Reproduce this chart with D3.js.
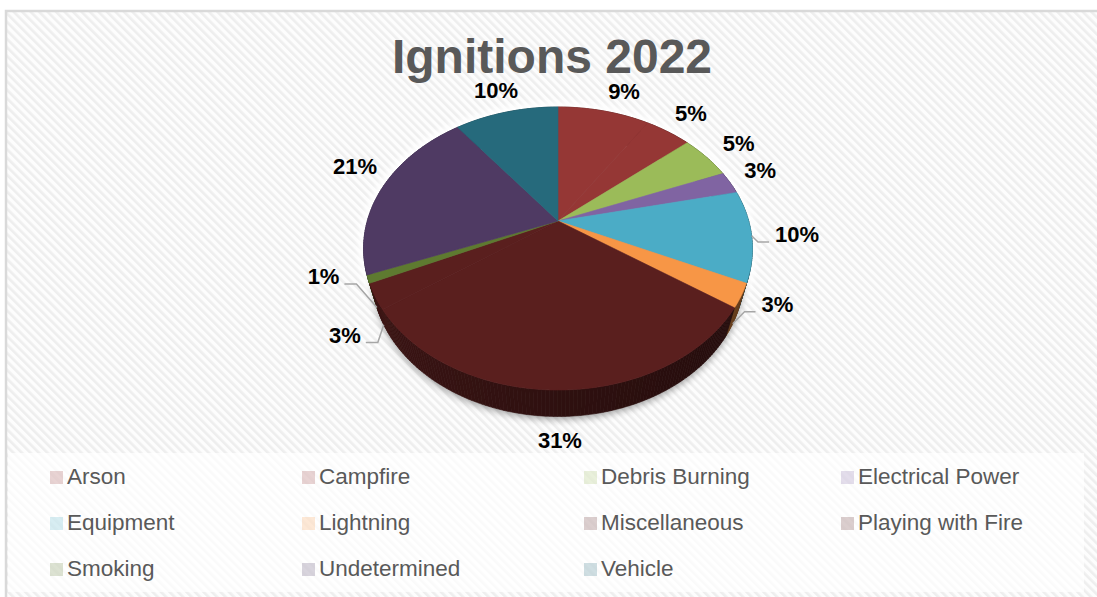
<!DOCTYPE html>
<html><head><meta charset="utf-8">
<script src="https://cdn.jsdelivr.net/npm/d3@7"></script>
<style>
html,body{margin:0;padding:0;background:#fff;}
svg{display:block;font-family:"Liberation Sans",Arial,sans-serif;}
</style></head>
<body>
<svg id="chart" width="1097" height="597"></svg>
<script>
// ---- data ----
const title = "Ignitions 2022";
const categories = ["Arson","Campfire","Debris Burning","Electrical Power","Equipment","Lightning","Miscellaneous","Playing with Fire","Smoking","Undetermined","Vehicle"];
const values = [9.2,4.6,5.1,2.6,10.4,2.7,30.6,2.9,0.9,20.6,10.4];
const colors = ["#953735","#953735","#9bbb59","#8064a2","#4bacc6","#f79646","#5a1f1e","#5a1f1e","#5e7a30","#4f3a63","#266a7c"];

// ---- layout ----
const W = 1097, H = 597;
const cx = 558, cy = 221, R = 190.7;
const sinP = 0.714, cosP = 0.700, D = 3.6, thick = 0.225;
const labelR = 1.245;
const labelLayout = {
  "Arson": {da: 3.4},
  "Electrical Power": {da: -2, r: 1.21},
  "Equipment": {da: -1.7, r: 1.234, leader: true, depth: 0},
  "Lightning": {da: -1.8, r: 1.164, leader: true, depth: 1},
  "Miscellaneous": {r: 1.225},
  "Playing with Fire": {da: -6.7, r: 1.2, leader: true, depth: 1},
  "Smoking": {da: 5, r: 1.2, leader: true, depth: 1},
  "Undetermined": {da: 5.3, r: 1.235}
};
const legendCols = [50, 302, 584, 841];
const legendRows = [471, 517, 563];

const svg = d3.select("#chart");
const defs = svg.append("defs");

// background stripes
const pat = defs.append("pattern").attr("id","stripes").attr("patternUnits","userSpaceOnUse")
  .attr("width",6).attr("height",6).attr("patternTransform","rotate(-45)");
pat.append("rect").attr("width",6).attr("height",6).attr("fill","#fdfdfd");
pat.append("rect").attr("width",2.6).attr("height",6).attr("fill","#eeeeee");

const blur = defs.append("filter").attr("id","blur").attr("x","-20%").attr("y","-20%").attr("width","140%").attr("height","140%");
blur.append("feGaussianBlur").attr("stdDeviation",3.5);
const glowF = defs.append("filter").attr("id","glow").attr("x","-20%").attr("y","-20%").attr("width","140%").attr("height","140%");
glowF.append("feGaussianBlur").attr("stdDeviation",3);

svg.append("rect").attr("width",W).attr("height",H).attr("fill","#fff");
svg.append("rect").attr("x",6).attr("y",11).attr("width",W+50).attr("height",H+50)
  .attr("fill","url(#stripes)").attr("stroke","#d9d9d9").attr("stroke-width",2.5);

// legend box
svg.append("rect").attr("x",8).attr("y",453).attr("width",1076).attr("height",139)
  .attr("fill","#ffffff").attr("opacity",0.72);

// title
svg.append("text").attr("x",552).attr("y",73).attr("text-anchor","middle")
  .attr("font-size",48).attr("font-weight","bold").attr("fill","#595959").text(title);

// ---- projection ----
const angleScale = d3.scaleLinear().domain([0,360]).range([0,2*Math.PI]);
function proj(theta, r, hgt){
  const px = r*Math.sin(theta), pz = r*Math.cos(theta);
  const Y = pz*sinP + hgt*cosP;
  const Z = pz*cosP - hgt*sinP;
  const s = D/(D+Z);
  return [cx + R*px*s, cy - R*Y*s];
}

const total = d3.sum(values);
const pie = d3.pie().sort(null).value(d => d.value).startAngle(0).endAngle(2*Math.PI);
const data = categories.map((c,i)=>({name:c, value:values[i], color:colors[i]}));
const arcs = pie(data);

const step = angleScale(1);
function arcPoints(a0, a1, r, hgt){
  const n = Math.max(2, Math.ceil((a1-a0)/ (step*0.5)));
  const pts = [];
  for(let k=0;k<=n;k++){ pts.push(proj(a0 + (a1-a0)*k/n, r, hgt)); }
  return pts;
}
const line = d3.line();

// silhouette glow + shadow
const fullTop = arcPoints(0, 2*Math.PI, 1, 0);
const fullBot = arcPoints(0, 2*Math.PI, 1, -thick);
const gPie = svg.append("g");
gPie.append("path").attr("d", line(fullTop)+"Z").attr("fill","none").attr("stroke","#ffffff")
  .attr("stroke-width",10).attr("filter","url(#glow)");
gPie.append("path").attr("d", line(fullBot)+"Z").attr("fill","#000").attr("opacity",0.35)
  .attr("transform","translate(0,3)").attr("filter","url(#blur)");

// side walls: segments sorted back to front
const segs = [];
arcs.forEach(a=>{
  const n = Math.max(1, Math.ceil((a.endAngle-a.startAngle)/step));
  for(let k=0;k<n;k++){
    const t0 = a.startAngle + (a.endAngle-a.startAngle)*k/n;
    const t1 = a.startAngle + (a.endAngle-a.startAngle)*(k+1)/n;
    segs.push({t0, t1, color:a.data.color});
  }
});
segs.sort((p,q)=> Math.cos((q.t0+q.t1)/2) - Math.cos((p.t0+p.t1)/2));
const sideShade = s=>{
  const m = (s.t0+s.t1)/2;
  const k = 1.1 + 1.5*(Math.sin(m)+1)/2;
  return d3.color(s.color).darker(k).formatHex();
};
gPie.selectAll("path.side").data(segs).enter().append("path").attr("class","side")
  .attr("d", s=>{
    const pts = [proj(s.t0,1,0), proj(s.t1,1,0), proj(s.t1,1,-thick), proj(s.t0,1,-thick)];
    return line(pts)+"Z";
  })
  .attr("fill", sideShade).attr("stroke", sideShade).attr("stroke-width",0.6);

// top faces
gPie.selectAll("path.top").data(arcs).enter().append("path").attr("class","top")
  .attr("d", a=> line([[cx,cy]].concat(arcPoints(a.startAngle, a.endAngle, 1, 0)))+"Z")
  .attr("fill", a=>a.data.color).attr("stroke", a=>a.data.color).attr("stroke-width",0.6)
  .attr("stroke-linejoin","round");

// labels
const fmt = v => Math.round(v/total*100) + "%";
const gLab = svg.append("g");
arcs.forEach(a=>{
  const L = labelLayout[a.data.name] || {};
  const mid = (a.startAngle + a.endAngle)/2;
  const th = mid + angleScale(L.da || 0);
  const p = proj(th, L.r || labelR, 0);
  const base = p[1] + 7.9;
  const t = gLab.append("text").attr("x",p[0]).attr("y",base).attr("text-anchor","middle")
    .attr("font-size",22).attr("font-weight","bold").attr("fill","#000").text(fmt(a.data.value));
  if(L.leader){
    const w = t.node().getComputedTextLength();
    const end = proj(mid, 1, -thick*(L.depth||0));
    let pts;
    if(p[0] > cx){
      const left = p[0]-w/2;
      pts = [end, [left-17, base], [left-6, base]];
    } else {
      const right = p[0]+w/2;
      pts = [end, [right+17, base], [right+5, base]];
    }
    gLab.insert("path","text").attr("d", line(pts)).attr("fill","none")
      .attr("stroke","#a6a6a6").attr("stroke-width",1.5);
  }
});

// legend
const gLeg = svg.append("g");
data.forEach((d,i)=>{
  const x = legendCols[i%4], y = legendRows[Math.floor(i/4)];
  gLeg.append("rect").attr("x",x).attr("y",y).attr("width",13).attr("height",13)
    .attr("fill",d.color).attr("opacity",0.22);
  gLeg.append("text").attr("x",x+17).attr("y",y+13).attr("font-size",22.5).attr("fill","#595959").text(d.name);
});
</script>
</body></html>
